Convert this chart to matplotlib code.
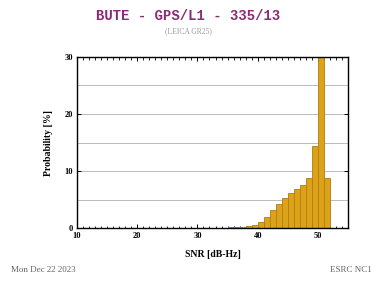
import matplotlib
matplotlib.use("Agg")
from matplotlib import pyplot as plt
from matplotlib.ticker import MultipleLocator
import numpy as np

# SNR bins (dB-Hz, left edge) and probability per bin (%)
snr = [30, 31, 32, 33, 34, 35, 36, 37, 38, 39, 40, 41, 42, 43, 44, 45, 46, 47, 48, 49, 50, 51]
prob = [0.02, 0.03, 0.04, 0.05, 0.06, 0.1, 0.12, 0.2, 0.4, 0.6, 1.1, 2.0, 3.2, 4.2, 5.2, 6.1, 6.8, 7.5, 8.7, 14.3, 35.0, 8.7]

title = "BUTE - GPS/L1 - 335/13"
subtitle = "(LEICA GR25)"
date_txt = "Mon Dec 22 2023"
tag_txt = "ESRC NC1"

fig = plt.figure(figsize=(3.76, 2.81), dpi=100)
ax = fig.add_axes([77/376, 53/281, 271/376, 171/281])

ax.bar(snr, prob, width=1.0, align='edge', color='#dba21a', edgecolor='#b07d10', linewidth=0.6, zorder=2)

ax.set_xlim(10, 55)
ax.set_ylim(0, 30)
ax.xaxis.set_major_locator(MultipleLocator(10))
ax.xaxis.set_minor_locator(MultipleLocator(1))
ax.yaxis.set_major_locator(MultipleLocator(10))
ax.yaxis.set_minor_locator(MultipleLocator(5))
ax.grid(True, which='both', axis='y', color='#b0b0b0', linewidth=0.6, zorder=0)
ax.tick_params(which='both', direction='in', top=True, right=True, labelsize=6, pad=3)
ax.tick_params(which='major', length=3, width=0.7)
ax.tick_params(which='minor', length=1.8, width=0.6)
ax.tick_params(axis='y', which='minor', length=0)
for lab in ax.get_xticklabels() + ax.get_yticklabels():
    lab.set_family('Liberation Serif')
    lab.set_fontweight('bold')
for s in ax.spines.values():
    s.set_linewidth(1.0)

ax.set_xlabel("SNR [dB-Hz]", family='Liberation Serif', fontweight='bold', fontsize=7, labelpad=7)
ax.set_ylabel("Probability [%]", family='Liberation Serif', fontweight='bold', fontsize=7, labelpad=8)

fig.text(0.5, 0.943, title, ha='center', va='center', family='Liberation Mono',
         fontweight='bold', fontsize=10, color='#8a2a78')
fig.text(0.5, 0.888, subtitle, ha='center', va='center', family='Liberation Serif',
         fontsize=5.5, color='#999999')
fig.text(0.03, 0.04, date_txt, ha='left', va='center', family='Liberation Serif',
         fontsize=6.5, color='#666666')
fig.text(0.99, 0.04, tag_txt, ha='right', va='center', family='Liberation Serif',
         fontsize=6.5, color='#666666')

fig.savefig("out.png", dpi=100)
